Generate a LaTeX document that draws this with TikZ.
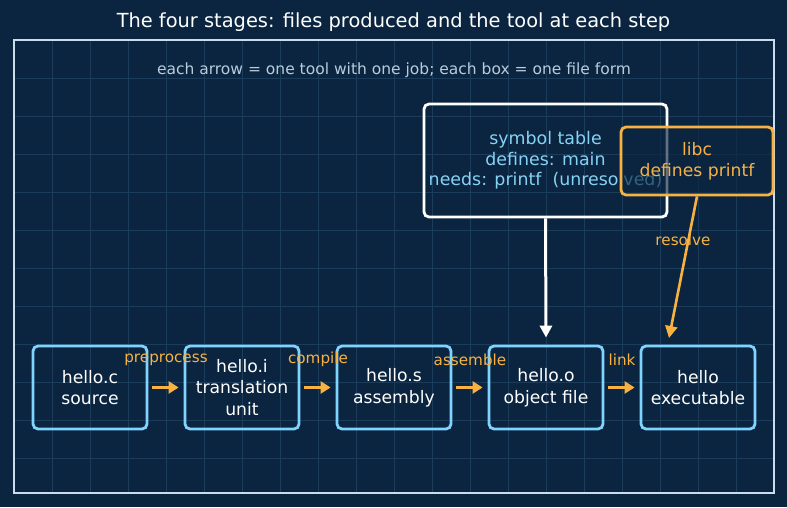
\documentclass[tikz,border=0pt]{standalone}
\usepackage{fontspec}
\setmainfont{DejaVu Sans}
\usetikzlibrary{arrows.meta}
\definecolor{bg}{HTML}{0B2540}
\definecolor{gridline}{HTML}{1B3C5A}
\definecolor{frameline}{HTML}{C9DDEB}
\definecolor{filecyan}{HTML}{7FD3FF}
\definecolor{tooltan}{HTML}{F8B242}
\definecolor{symblue}{HTML}{86D2F5}
\definecolor{subgrey}{HTML}{B8CCDC}
\tikzset{
  filebox/.style={draw=filecyan,line width=2.8pt,rounded corners=5pt,minimum width=114pt,minimum height=83pt,text=white,align=center,font=\fontsize{17.2}{21.5}\selectfont},
  symbox/.style={draw=white,line width=2.8pt,rounded corners=5pt,minimum width=243pt,minimum height=113pt,text=symblue,align=center,font=\fontsize{17.4}{20.5}\selectfont},
  libbox/.style={draw=tooltan,line width=2.8pt,rounded corners=5pt,fill=bg,fill opacity=0.65,text opacity=1,minimum width=152pt,minimum height=68pt,text=tooltan,align=center,font=\fontsize{17.2}{21}\selectfont},
  tool/.style={draw=tooltan,line width=3pt,-{Triangle[length=10pt,width=12pt]},shorten <=4pt,shorten >=5pt},
  toollabel/.style={text=tooltan,font=\fontsize{15.2}{18}\selectfont},
  link/.style={draw=white,line width=3pt,-{Triangle[length=12pt,width=12pt]}},
}

\begin{document}
\begin{tikzpicture}[x=1pt,y=-1pt]
  \useasboundingbox[fill=bg] (0,0) rectangle (787,507);

  % grid behind everything
  \foreach \gx in {52,90,...,736} {
    \draw[gridline,line width=0.8pt] (\gx,40) -- (\gx,493);
  }
  \foreach \gy in {78,116,...,458} {
    \draw[gridline,line width=0.8pt] (14,\gy) -- (774,\gy);
  }
  \draw[frameline,line width=1.8pt] (14,40) rectangle (774,493);

  \node[text=white,font=\fontsize{19.4}{22}\selectfont] (title) at (393.5,22) {The four stages: files produced and the tool at each step};
  \node[text=subgrey,font=\fontsize{15.5}{18}\selectfont] (subtitle) at (394,70) {each arrow = one tool with one job; each box = one file form};

  % one box per file form
  \foreach \name/\x/\txt in {src/90/{hello.c\\source}, unit/242/{hello.i\\translation\\unit}, asm/394/{hello.s\\assembly}, obj/546/{hello.o\\object file}, exe/698/{hello\\executable}} {
    \node[filebox] (\name) at (\x,387.5) {\txt};
  }

  % one tool per arrow
  \foreach \from/\to/\job in {src/unit/preprocess, unit/asm/compile, asm/obj/assemble, obj/exe/link} {
    \draw[tool] (\from.east) -- (\to.west);
    \path (\from.east) -- (\to.west) node[toollabel,midway,yshift=28pt] {\job};
  }

  \node[symbox] (symtab) at (545.5,160.5) {symbol table\\defines: main\\needs: printf~ (unresolved)};
  \node[libbox] (libc) at (697,161) {libc\\defines printf};

  \coordinate (exe_in) at (669,338);
  \draw[link] (symtab.south) -- ([yshift=7pt]obj.north);
  \draw[tool,line width=2.6pt,shorten <=0pt,shorten >=0pt,-{Triangle[length=12pt,width=12pt]}] (libc.south) -- (exe_in);
  \node[toollabel] (resolve) at (683,240) {resolve};
\end{tikzpicture}
\end{document}
